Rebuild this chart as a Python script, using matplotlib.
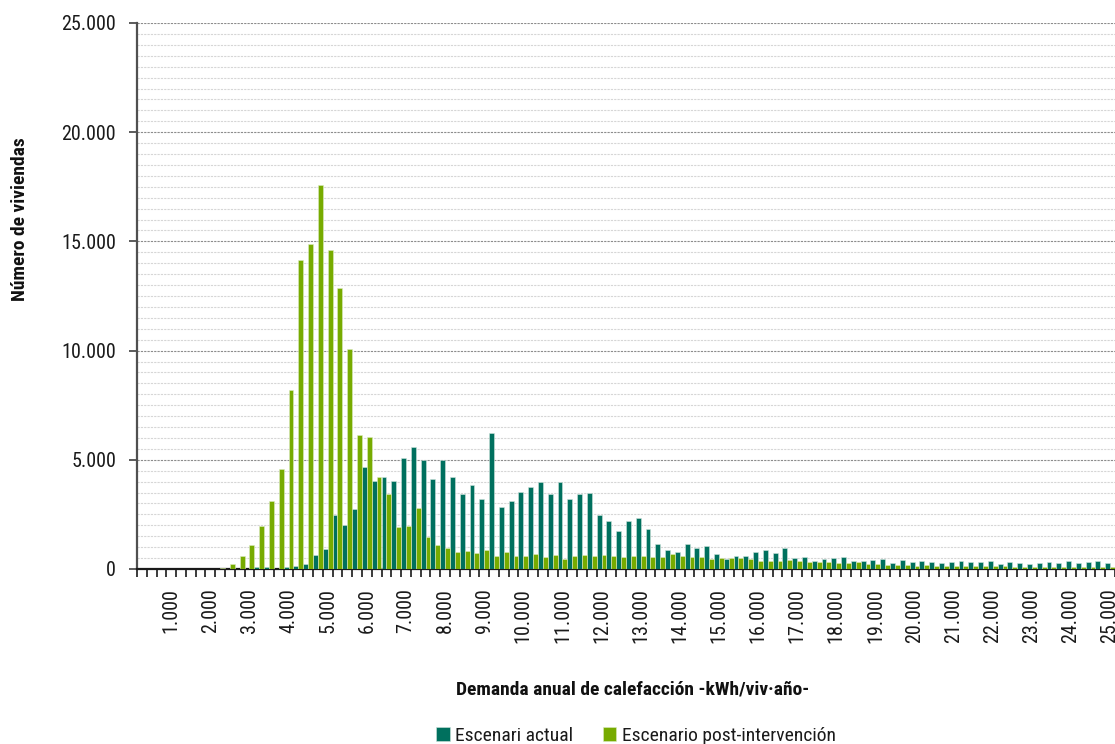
import matplotlib
matplotlib.use("Agg")
import matplotlib.pyplot as plt
from matplotlib import font_manager as fm
from matplotlib.ticker import MultipleLocator, FuncFormatter, FixedLocator
import numpy as np

# ---------------- data ----------------
categories = [250 * (i + 1) for i in range(100)]  # kWh/viv·año bins

actual = [
    0, 0, 0, 0, 0, 0, 0, 0, 0, 0,
    0, 0, 0.10, 0.10, 0.02, 0.08, 0.14, 0.21, 0.63, 0.92,
    2.49, 2.01, 2.76, 4.69, 4.01, 4.21, 4.04, 5.08, 5.59, 4.98,
    4.11, 4.97, 4.22, 3.43, 3.86, 3.20, 6.25, 2.85, 3.11, 3.51,
    3.75, 3.98, 3.45, 3.97, 3.20, 3.43, 3.49, 2.47, 2.21, 1.73,
    2.18, 2.35, 1.82, 1.15, 0.88, 0.76, 1.15, 0.98, 1.06, 0.68,
    0.47, 0.59, 0.61, 0.80, 0.86, 0.73, 0.94, 0.52, 0.53, 0.35,
    0.47, 0.52, 0.53, 0.36, 0.35, 0.41, 0.44, 0.27, 0.39, 0.30,
    0.35, 0.30, 0.27, 0.32, 0.38, 0.32, 0.32, 0.35, 0.21, 0.30,
    0.27, 0.24, 0.27, 0.30, 0.27, 0.35, 0.27, 0.30, 0.38, 0.29,
]
post = [
    0, 0, 0, 0, 0, 0, 0, 0, 0.05, 0.24,
    0.60, 1.08, 1.97, 3.13, 4.58, 8.18, 14.13, 14.87, 17.57, 14.60,
    12.87, 10.07, 6.15, 6.06, 4.21, 3.45, 1.92, 1.98, 2.78, 1.45,
    1.09, 0.95, 0.77, 0.82, 0.72, 0.86, 0.58, 0.80, 0.58, 0.58,
    0.68, 0.54, 0.66, 0.46, 0.60, 0.63, 0.58, 0.65, 0.59, 0.53,
    0.61, 0.59, 0.56, 0.56, 0.68, 0.61, 0.56, 0.53, 0.48, 0.52,
    0.50, 0.50, 0.44, 0.36, 0.35, 0.38, 0.40, 0.37, 0.30, 0.30,
    0.30, 0.27, 0.29, 0.30, 0.21, 0.22, 0.20, 0.18, 0.18, 0.16,
    0.20, 0.16, 0.15, 0.12, 0.16, 0.14, 0.13, 0.12, 0.12, 0.10,
    0.10, 0.10, 0.10, 0.09, 0.09, 0.09, 0.09, 0.09, 0.09, 0.07,
]
actual = [v * 1000 for v in actual]
post = [v * 1000 for v in post]

series_names = ["Escenari actual", "Escenario post-intervención"]
colors = ["#00705E", "#77AB00"]
xlabel = "Demanda anual de calefacción -kWh/viv·año-"
ylabel = "Número de viviendas"

# ---------------- fonts ----------------
COND_NAMES = ("Liberation Sans Narrow", "Roboto Condensed", "Open Sans Condensed",
              "Noto Sans Condensed", "DejaVu Sans Condensed", "Arial Narrow",
              "Noto Sans ExtraCondensed", "Noto Sans SemiCondensed")
COND_STRETCH = ("condensed", "extra-condensed", "ultra-condensed", "semi-condensed")


def find_condensed():
    names = {f.name for f in fm.fontManager.ttflist}
    for n in COND_NAMES:
        if n in names:
            return n, "normal"
    for fam in ("Roboto", "Noto Sans", "Open Sans", "Liberation Sans", "DejaVu Sans"):
        for f in fm.fontManager.ttflist:
            if f.name == fam and str(f.stretch) in COND_STRETCH:
                return fam, "condensed"
    return None, None


fam, stretch = find_condensed()
if fam is not None:
    plt.rcParams["font.family"] = [fam, "DejaVu Sans"]
    plt.rcParams["font.stretch"] = stretch
    TICK, TITLE, LEG = 14.5, 14, 14
else:
    plt.rcParams["font.family"] = ["Roboto", "DejaVu Sans"]
    TICK, TITLE, LEG = 13.5, 12, 12.2


def thousands(v, pos=None):
    return f"{int(round(v)):,}".replace(",", ".")


# ---------------- figure ----------------
fig = plt.figure(figsize=(11.15, 7.44), dpi=100)
ax = fig.add_axes([137 / 1115, 1 - 569 / 744, 978 / 1115, (569 - 23) / 744])

x = np.arange(len(categories))
w = 0.5
ax.bar(x - w / 2, actual, width=w, color=colors[0], edgecolor="#cfe3dc",
       linewidth=0.4, label=series_names[0], zorder=3)
ax.bar(x + w / 2, post, width=w, color=colors[1], edgecolor="#dcebc0",
       linewidth=0.4, label=series_names[1], zorder=3)

ax.set_xlim(-0.5, len(categories) - 0.5)
ax.set_ylim(0, 25000)

# y axis
ax.yaxis.set_major_locator(MultipleLocator(5000))
ax.yaxis.set_minor_locator(MultipleLocator(500))
ax.yaxis.set_major_formatter(FuncFormatter(thousands))
ax.grid(which="major", axis="y", color="#8c8c8c", linestyle=(0, (2, 1)), linewidth=0.8, zorder=0)
ax.grid(which="minor", axis="y", color="#d6d6d6", linestyle=(0, (2, 1)), linewidth=0.8, zorder=0)
ax.tick_params(axis="y", which="major", direction="out", length=6, width=1.2,
               color="#404040", labelsize=TICK, labelcolor="#1a1a1a", pad=9)
ax.tick_params(axis="y", which="minor", length=0)

# x axis: ticks at category boundaries, labels every 1000
lab_idx = [i for i, c in enumerate(categories) if c % 1000 == 0]
ax.xaxis.set_major_locator(FixedLocator(lab_idx))
ax.set_xticklabels([thousands(categories[i]) for i in lab_idx], rotation=90)
ax.xaxis.set_minor_locator(FixedLocator(np.arange(len(categories) + 1) - 0.5))
ax.tick_params(axis="x", which="major", length=0, labelsize=TICK,
               labelcolor="#1a1a1a", pad=14)
ax.tick_params(axis="x", which="minor", direction="out", length=6, width=1.2,
               color="#1a1a1a")

for s in ["top", "right"]:
    ax.spines[s].set_visible(False)
ax.spines["left"].set_color("#505050")
ax.spines["left"].set_linewidth(1.6)
ax.spines["bottom"].set_color("#1a1a1a")
ax.spines["bottom"].set_linewidth(1.6)

# titles
fig.text(633 / 1115, 1 - 690 / 744, xlabel, ha="center", va="center",
         fontsize=TITLE, fontweight="bold", color="#111111")
fig.text(20 / 1115, 1 - 219 / 744, ylabel, ha="center", va="center",
         rotation=90, fontsize=TITLE, fontweight="bold", color="#111111")

leg = fig.legend(loc="center", bbox_to_anchor=(636 / 1115, 1 - 736 / 744),
                 ncol=2, frameon=False, fontsize=LEG, handlelength=0.7,
                 handleheight=0.7, handletextpad=0.3, columnspacing=1.5)
for t in leg.get_texts():
    t.set_color("#1a1a1a")

fig.savefig("out.png", dpi=100)
